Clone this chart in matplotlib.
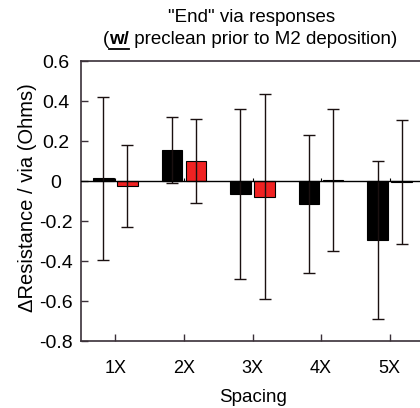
import matplotlib
matplotlib.use("Agg")
import matplotlib.pyplot as plt
import numpy as np

plt.rcParams['font.family'] = ['Liberation Sans', 'DejaVu Sans']

spacings = ["1X", "2X", "3X", "4X", "5X"]
black_vals = [0.013, 0.155, -0.065, -0.115, -0.295]
black_err = [0.408, 0.164, 0.425, 0.345, 0.396]
red_vals = [-0.025, 0.100, -0.078, 0.005, -0.005]
red_err = [0.205, 0.210, 0.514, 0.354, 0.308]
yticks = [0.6, 0.4, 0.2, 0, -0.2, -0.4, -0.6, -0.8]
ytick_labels = ["0.6", "0.4", "0.2", "0", "-0.2", "-0.4", "-0.6", "-0.8"]

DPI = 100
fig = plt.figure(figsize=(4.2, 4.08), dpi=DPI)
W, H = 420, 408
AX_L, AX_R, AX_T, AX_B = 81, 424, 61, 341
ax = fig.add_axes([AX_L / W, 1 - AX_B / H, (AX_R - AX_L) / W, (AX_B - AX_T) / H])

x = np.arange(1, len(spacings) + 1)
bw = 0.30
off = 0.175
ekw = dict(ecolor="#1a1010", elinewidth=1.0, capsize=4, capthick=1.0)
ax.bar(x - off, black_vals, bw, color="black", edgecolor="black", linewidth=0.8,
       yerr=black_err, error_kw=ekw, zorder=2)
ax.bar(x + off, red_vals, bw, color="#f02222", edgecolor="black", linewidth=0.8,
       yerr=red_err, error_kw=ekw, zorder=2)

ax.axhline(0, color="black", linewidth=1.0, zorder=3)
ax.vlines(x, 0, 0.015, color="black", linewidth=0.8, zorder=3)

ax.set_xlim(0.5, 5.5)
ax.set_ylim(-0.8, 0.6)
ax.set_xticks(x)
ax.set_xticklabels(spacings)
ax.set_yticks(yticks)
ax.set_yticklabels(ytick_labels, ha="center")
ax.tick_params(axis="both", direction="in", length=5, width=1,
               color="#3a3038")
ax.tick_params(axis="y", pad=18, labelsize=14)
ax.tick_params(axis="x", pad=14, labelsize=13)
for s in ["left", "bottom", "top"]:
    ax.spines[s].set_linewidth(1.2)
    ax.spines[s].set_color("#3a3038")
ax.spines["right"].set_visible(False)

axw, axh = AX_R - AX_L, AX_B - AX_T
ax.set_xlabel("Spacing", fontsize=13.5, va="center")
ax.xaxis.set_label_coords((253 - AX_L) / axw, (AX_B - 397) / axh)
ax.set_ylabel("\u0394Resistance / via (Ohms)", fontsize=14.5, va="center")
ax.yaxis.set_label_coords((28 - AX_L) / axw, (AX_B - 198) / axh)

# two-line title; the second line has an underlined bold "w/"
fig.text(252 / W, 1 - 17 / H, '"End" via responses', ha="center", va="center",
         fontsize=13.5)
fig.canvas.draw()
r = fig.canvas.get_renderer()
parts = [("(", "normal"), ("w/", "bold"), (" preclean prior to M2 deposition)", "normal")]
texts = [fig.text(0, 1 - 40 / H, s, fontsize=13.5, fontweight=w, va="center")
         for s, w in parts]
widths = [t.get_window_extent(r).width for t in texts]
total = sum(widths)
xs = 250 - total / 2
for t, wpx in zip(texts, widths):
    t.set_x(xs / W)
    xs += wpx
x0 = (250 - total / 2 + widths[0]) / W
x1 = x0 + widths[1] / W
fig.add_artist(plt.Line2D([x0, x1], [1 - 49 / H, 1 - 49 / H], color="black",
                          linewidth=1.3, transform=fig.transFigure))

fig.savefig("out.png", dpi=DPI)
